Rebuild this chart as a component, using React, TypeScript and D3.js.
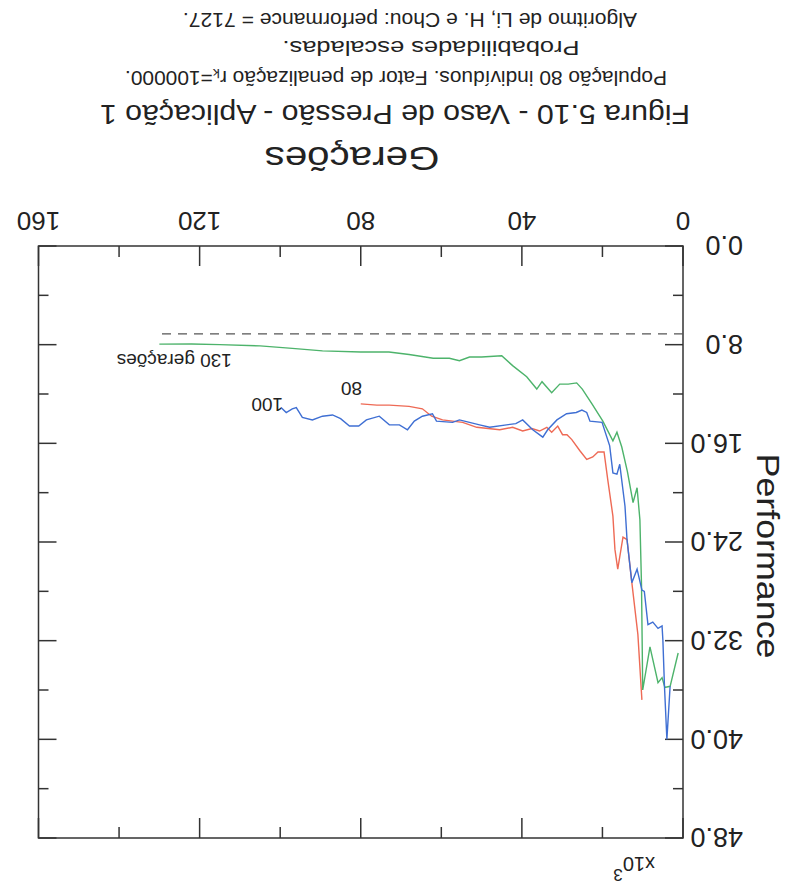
import React, { useEffect, useRef } from 'react'
import * as d3 from 'd3'

// figure is a scanned page that was photographed upside down,
// so everything is laid out normally and then turned 180 degrees
const genMajor = [0, 40, 80, 120, 160]
const genMinor = [20, 60, 100, 140]
const perfMajor = [0, 8, 16, 24, 32, 40, 48]
const perfMinor = [4, 12, 20, 28, 36, 44]
const target = 7.127

// [geração, performance x10^3]
const pop130 = [
  [1.2, 33.0], [3.2, 35.7], [4.5, 35.8], [5.2, 35.0], [6.2, 35.4], [8.2, 32.5],
  [10.0, 36.0], [10.3, 27.5], [10.7, 22.2], [11.4, 19.6], [12.4, 20.8], [13.8, 18.3],
  [15.2, 16.3], [16.4, 15.1], [17.4, 15.8], [19.9, 14.2], [22.6, 12.8], [25.0, 11.6],
  [26.4, 11.1], [28.5, 11.2], [30.6, 11.2], [32.6, 11.9], [35.0, 11.0], [36.3, 11.6],
  [38.8, 10.6], [42.3, 9.7], [45.0, 8.9], [50.0, 9.0], [53.0, 9.0], [55.5, 9.3],
  [58.0, 9.1], [62.0, 9.1], [66.0, 8.9], [68.0, 8.8], [73.0, 8.6], [80.0, 8.6],
  [89.5, 8.5], [97.0, 8.3], [105.0, 8.1], [115.0, 8.0], [122.0, 7.95], [130.0, 7.96],
]

const pop80 = [
  [10.2, 36.8], [11.2, 31.5], [12.7, 27.3], [13.9, 23.8], [14.9, 23.6], [16.2, 26.2],
  [16.9, 24.6], [17.4, 21.9], [18.7, 18.9], [19.6, 16.7], [21.1, 16.7], [22.4, 17.1],
  [23.9, 17.3], [25.6, 16.6], [27.6, 15.7], [28.8, 15.3], [29.9, 15.3], [31.1, 14.6],
  [32.6, 15.1], [33.8, 14.7], [35.6, 15.0], [37.5, 14.8], [39.8, 15.0], [42.3, 14.7],
  [45.5, 14.9], [51.2, 14.7], [54.7, 14.3], [59.7, 14.1], [62.4, 13.8], [64.7, 13.2],
  [68.0, 13.0], [72.9, 12.9], [76.0, 12.9], [80.0, 12.8],
]

const pop100 = [
  [3.2, 35.7], [4.0, 40.0], [4.6, 35.7], [5.0, 31.9], [5.2, 30.8], [6.2, 31.0],
  [7.5, 30.5], [8.7, 30.7], [9.6, 28.0], [10.2, 27.9], [11.4, 26.2], [12.7, 27.3],
  [13.9, 23.8], [14.4, 21.1], [15.7, 17.7], [16.4, 18.5], [17.4, 18.4], [18.2, 16.2],
  [20.1, 14.3], [23.1, 14.2], [23.9, 13.5], [25.1, 13.3], [26.5, 13.5], [28.9, 13.6],
  [31.3, 14.1], [33.6, 14.9], [34.8, 15.5], [37.3, 14.9], [39.8, 14.1], [41.5, 14.4],
  [43.8, 14.5], [48.0, 14.7], [50.5, 14.5], [53.0, 14.3], [55.5, 14.1], [57.2, 14.3],
  [61.2, 14.2], [62.2, 13.6], [64.7, 13.8], [66.7, 14.2], [68.4, 14.9], [70.4, 14.5],
  [72.9, 14.5], [75.4, 13.8], [78.6, 14.1], [80.5, 14.6], [82.8, 14.6], [85.0, 14.0],
  [87.0, 13.7], [89.5, 13.8], [92.0, 14.1], [94.5, 13.9], [96.0, 13.1], [97.0, 13.2],
  [98.5, 13.5], [99.8, 13.1],
]

const caption = [
  'Figura 5.10 - Vaso de Pressão - Aplicação 1',
  'População 80 indivíduos. Fator de penalização rₖ=100000.',
  'Probabilidades escaladas.',
  'Algoritmo de Li, H. e Chou: performance = 7127.',
]

const W = 788
const H = 888

export default function App() {
  const ref = useRef<SVGSVGElement>(null)

  useEffect(() => {
    const m = { left: 105, right: 38.5, top: 50, bottom: 246 }
    const x = d3.scaleLinear().domain([0, 160]).range([m.left, W - m.right])
    const y = d3.scaleLinear().domain([0, 48]).range([H - m.bottom, m.top])

    const svg = d3.select(ref.current)
    svg.selectAll('*').remove()
    svg.append('rect').attr('width', W).attr('height', H).attr('fill', '#fff')

    const g = svg.append('g')
      .attr('transform', `rotate(180 ${W / 2} ${H / 2})`)
      .style('font-family', '"Liberation Sans", Arial, sans-serif')
      .attr('fill', '#222')

    const axisColor = '#333'
    // frame
    g.append('rect')
      .attr('x', x(0)).attr('y', y(48))
      .attr('width', x(160) - x(0)).attr('height', y(0) - y(48))
      .attr('fill', 'none').attr('stroke', axisColor).attr('stroke-width', 1.5)

    // inward ticks on all four sides
    const ticks = g.append('g').attr('stroke', axisColor).attr('stroke-width', 1.5)
    const xt = genMajor.map((v) => [v, 20]).concat(genMinor.map((v) => [v, 11]))
    xt.forEach(([v, len]) => {
      ticks.append('line').attr('x1', x(v)).attr('x2', x(v)).attr('y1', y(0)).attr('y2', y(0) - len)
      ticks.append('line').attr('x1', x(v)).attr('x2', x(v)).attr('y1', y(48)).attr('y2', y(48) + len)
    })
    const yt = perfMajor.map((v) => [v, 18]).concat(perfMinor.map((v) => [v, 10]))
    yt.forEach(([v, len]) => {
      ticks.append('line').attr('y1', y(v)).attr('y2', y(v)).attr('x1', x(0)).attr('x2', x(0) + len)
      ticks.append('line').attr('y1', y(v)).attr('y2', y(v)).attr('x1', x(160)).attr('x2', x(160) - len)
    })

    // tick labels
    g.append('g').selectAll('text')
      .data(genMajor).enter().append('text')
      .attr('x', (d) => x(d)).attr('y', y(0) + 34)
      .attr('text-anchor', 'middle').attr('font-size', 26)
      .text((d) => d)
    g.append('g').selectAll('text')
      .data(perfMajor).enter().append('text')
      .attr('x', 45).attr('y', (d) => y(d)).attr('dy', '0.36em')
      .attr('font-size', 27)
      .text((d) => d.toFixed(1))

    // x10^3
    const mult = g.append('text').attr('x', 133).attr('y', 31).attr('font-size', 20)
    mult.append('tspan').text('x10')
    mult.append('tspan').attr('dy', -12).attr('font-size', 17).text('3')

    // axis titles
    g.append('text')
      .attr('transform', `translate(31, 332) rotate(-90)`)
      .attr('text-anchor', 'middle').attr('font-size', 32)
      .attr('textLength', 205).attr('lengthAdjust', 'spacingAndGlyphs')
      .text('Performance')
    g.append('text')
      .attr('x', 436).attr('y', 741)
      .attr('text-anchor', 'middle').attr('font-size', 33)
      .attr('textLength', 175).attr('lengthAdjust', 'spacingAndGlyphs')
      .text('Gerações')

    // target performance
    g.append('line')
      .attr('x1', x(0)).attr('x2', x(130)).attr('y1', y(target)).attr('y2', y(target))
      .attr('stroke', '#555').attr('stroke-width', 1.3).attr('stroke-dasharray', '9,7')

    const line = d3.line<number[]>().x((d) => x(d[0])).y((d) => y(d[1]))
    const series: [number[][], string][] = [
      [pop80, '#ee6a55'],
      [pop130, '#4db36b'],
      [pop100, '#3f6fd3'],
    ]
    series.forEach(([data, color]) => {
      g.append('path').datum(data).attr('d', line)
        .attr('fill', 'none').attr('stroke', color).attr('stroke-width', 1.4)
    })

    // run labels
    g.append('text').attr('x', x(112)).attr('y', y(7.96) - 10).attr('font-size', 19).text('130 gerações')
    g.append('text').attr('x', x(79.7)).attr('y', y(12.8) + 22).attr('font-size', 19).text('80')
    g.append('text').attr('x', x(99.3)).attr('y', y(13.1) + 10).attr('font-size', 19).text('100')

    // caption, widths
    const capPos = [[393, 783, 27, 590], [392, 817, 20, 542], [357, 847, 20, 297], [378, 875, 20, 454]]
    caption.forEach((t, i) => {
      g.append('text')
        .attr('x', capPos[i][0]).attr('y', capPos[i][1])
        .attr('text-anchor', 'middle').attr('font-size', capPos[i][2])
        .attr('textLength', capPos[i][3]).attr('lengthAdjust', 'spacingAndGlyphs')
        .text(t)
    })
  }, [])

  return (
    <svg
      ref={ref}
      width={W}
      height={H}
      style={{ position: 'absolute', left: 0, top: 0, display: 'block' }}
    />
  )
}
